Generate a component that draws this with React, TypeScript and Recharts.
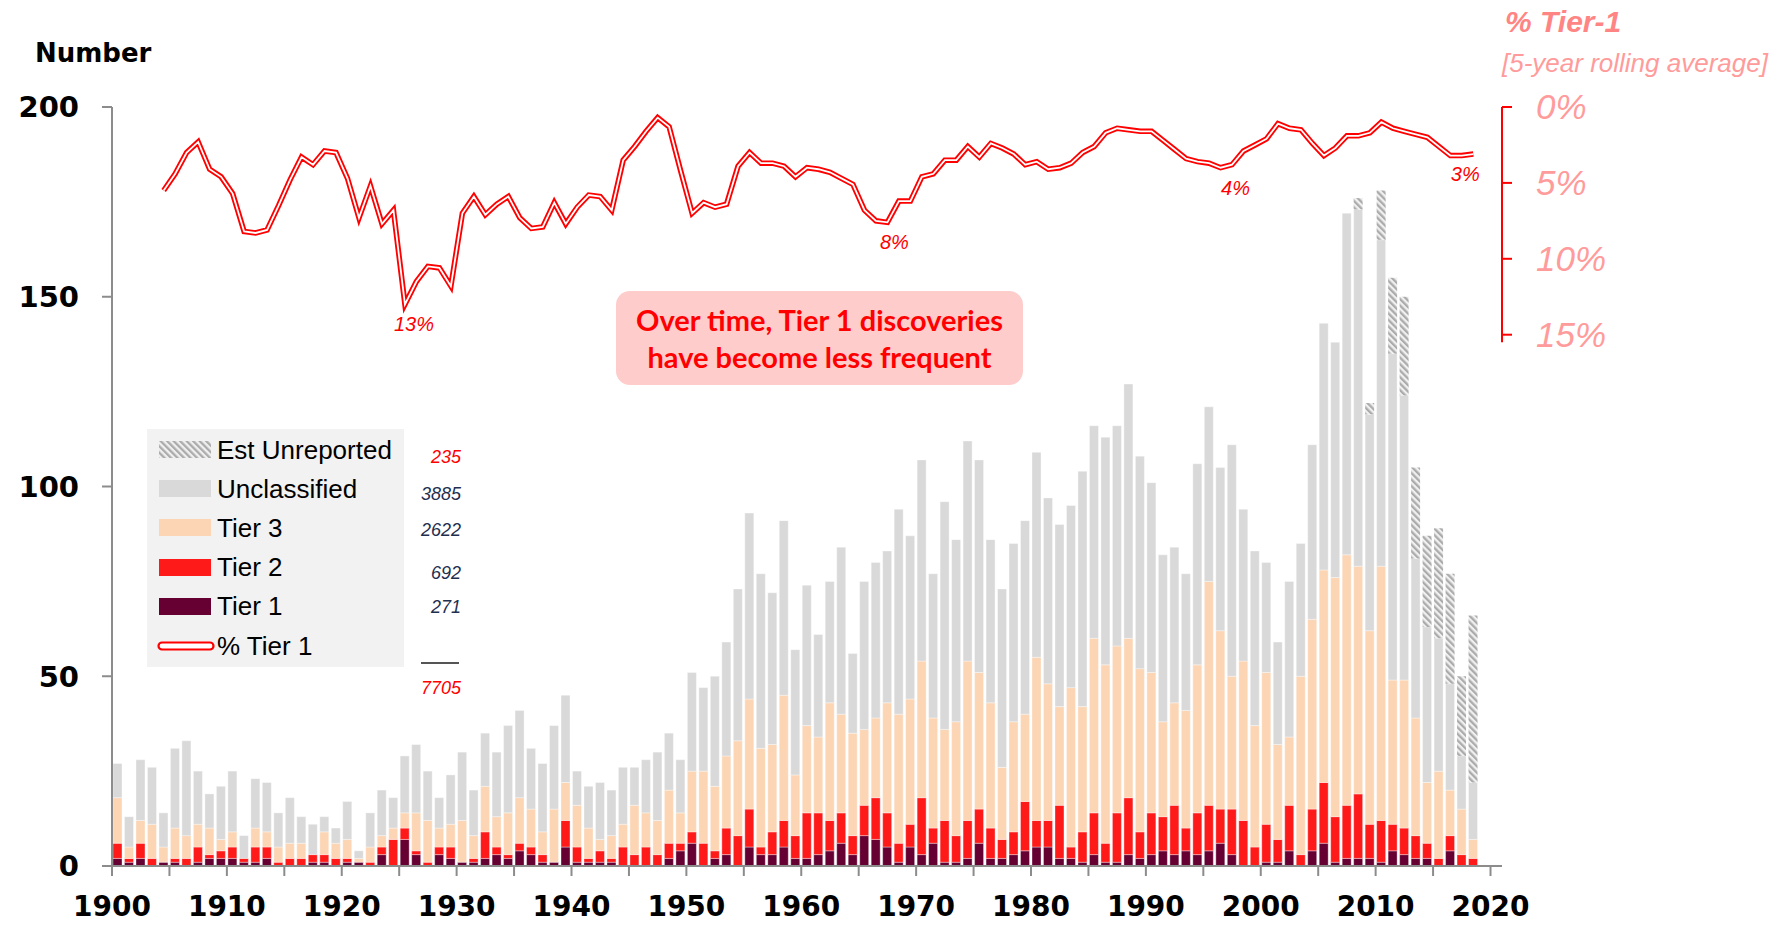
import React from 'react';
import { ComposedChart, Bar, Line, XAxis, YAxis, Legend, ReferenceLine } from 'recharts';

// discoveries per year, 1900 .. 2018
const FIRST_YEAR = 1900;

const tier1 = [
  2, 1, 2, 0, 1, 1, 0, 1, 2, 2,
  2, 1, 1, 2, 0, 0, 0, 1, 1, 0,
  1, 1, 0, 3, 0, 7, 3, 0, 3, 2,
  1, 1, 2, 3, 2, 4, 3, 1, 1, 5,
  1, 1, 1, 1, 0, 0, 0, 0, 2, 4,
  6, 0, 2, 3, 0, 5, 3, 3, 5, 2,
  2, 3, 4, 6, 3, 8, 7, 5, 1, 5,
  3, 6, 1, 1, 2, 6, 2, 2, 3, 4,
  5, 5, 2, 2, 1, 3, 1, 1, 3, 2,
  3, 4, 3, 4, 3, 4, 6, 3, 0, 0,
  1, 1, 4, 0, 4, 6, 1, 2, 2, 2,
  1, 4, 3, 2, 2, 0, 4, 0, 0,
];

const tier2 = [
  4, 1, 4, 2, 0, 1, 2, 4, 1, 2,
  3, 1, 4, 3, 1, 2, 2, 2, 2, 2,
  1, 0, 1, 2, 7, 3, 1, 1, 2, 3,
  0, 1, 7, 2, 1, 2, 2, 2, 0, 7,
  4, 1, 3, 1, 5, 3, 5, 3, 4, 2,
  3, 6, 2, 7, 8, 10, 2, 6, 7, 6,
  12, 11, 8, 8, 5, 8, 11, 9, 5, 6,
  15, 4, 11, 7, 10, 9, 8, 5, 6, 13,
  7, 7, 14, 3, 8, 11, 5, 13, 15, 7,
  11, 9, 13, 6, 11, 12, 9, 12, 12, 5,
  10, 6, 12, 3, 11, 16, 12, 14, 17, 9,
  11, 7, 7, 6, 4, 2, 4, 3, 2,
];

const tier3 = [
  12, 3, 6, 9, 4, 8, 6, 6, 7, 3,
  4, 0, 5, 4, 4, 4, 4, 0, 6, 4,
  5, 1, 4, 3, 3, 4, 10, 11, 5, 6,
  11, 6, 12, 8, 11, 12, 10, 6, 14, 10,
  11, 8, 3, 6, 6, 13, 9, 9, 14, 8,
  16, 19, 17, 19, 25, 29, 26, 23, 33, 16,
  23, 20, 31, 26, 27, 20, 21, 29, 34, 33,
  36, 29, 24, 30, 42, 36, 33, 19, 29, 23,
  43, 36, 26, 42, 33, 46, 47, 44, 42, 43,
  37, 25, 27, 31, 39, 59, 47, 35, 42, 32,
  40, 25, 18, 47, 50, 56, 63, 66, 60, 51,
  67, 38, 39, 31, 16, 23, 12, 12, 5,
];

const unclassified = [
  9, 8, 16, 15, 9, 21, 25, 14, 9, 14,
  16, 6, 13, 13, 9, 12, 7, 8, 4, 4,
  10, 2, 9, 12, 8, 15, 18, 13, 8, 13,
  18, 12, 14, 17, 23, 23, 16, 18, 22, 23,
  9, 11, 15, 12, 15, 10, 14, 18, 15, 14,
  26, 22, 29, 30, 40, 49, 46, 40, 46, 33,
  37, 27, 32, 44, 21, 39, 41, 40, 54, 43,
  53, 38, 60, 48, 58, 56, 43, 47, 47, 51,
  54, 49, 48, 48, 62, 56, 60, 58, 67, 56,
  50, 44, 41, 36, 53, 46, 43, 61, 40, 46,
  29, 27, 41, 35, 46, 65, 62, 90, 94, 57,
  86, 86, 75, 42, 41, 35, 28, 14, 15,
];

// estimated unreported, 2008 .. 2018
const EST_FROM = 2008;
const estUnreported = [3, 3, 13, 20, 26, 24, 24, 29, 29, 21, 44];

// % Tier 1, 5-year rolling average, 1904 .. 2018
const PCT_FROM = 1904;
const pctTier1 = [
  5.5, 4.4, 3.0, 2.3, 4.1, 4.6,
  5.7, 8.2, 8.3, 8.1, 6.5, 4.8, 3.3, 3.8, 2.9, 3.0,
  4.7, 7.3, 5.2, 7.7, 6.8, 13.0, 11.5, 10.5, 10.6, 11.8,
  7.0, 5.9, 7.1, 6.4, 5.9, 7.3, 8.0, 7.9, 6.3, 7.7,
  6.6, 5.8, 5.9, 6.8, 3.5, 2.6, 1.6, 0.7, 1.3, 4.2,
  7.0, 6.3, 6.6, 6.4, 3.9, 3.0, 3.7, 3.7, 3.9, 4.6,
  4.0, 4.1, 4.3, 4.7, 5.1, 6.8, 7.5, 7.6, 6.2, 6.2,
  4.6, 4.4, 3.5, 3.5, 2.6, 3.3, 2.4, 2.7, 3.1, 3.8,
  3.6, 4.1, 4.0, 3.7, 3.0, 2.6, 1.7, 1.4, 1.5, 1.6,
  1.6, 2.2, 2.8, 3.4, 3.6, 3.7, 4.0, 3.8, 2.9, 2.5,
  2.1, 1.1, 1.4, 1.5, 2.4, 3.2, 2.7, 1.9, 1.9, 1.7,
  1.0, 1.4, 1.6, 1.8, 2.0, 2.6, 3.2, 3.2, 3.1,
];

const xTicks = [
  1900, 1905, 1910, 1915, 1920, 1925, 1930, 1935, 1940, 1945, 1950, 1955, 1960,
  1965, 1970, 1975, 1980, 1985, 1990, 1995, 2000, 2005, 2010, 2015, 2020,
];
const leftTicks = [0, 50, 100, 150, 200];
const rightTicks = [0, 5, 10, 15];

const lineNotes: Record<number, string> = { 1925: '13%', 1967: '8%', 1996: '4%', 2018: '3%' };
const legendTotals = ['235', '3885', '2622', '692', '271'];
const grandTotal = '7705';

// nudge for the note text, px
const noteShift: Record<number, number> = { 1925: 9, 1967: 7, 1996: 15, 2018: -8 };

const C_T1 = '#660033';
const C_T2 = '#ff1a1a';
const C_T3 = '#fcd5b4';
const C_UN = '#d9d9d9';
const C_LINE = '#ff0000';
const AXIS = '#8c8c8c';

const rows = tier1.map((t1, i) => {
  const year = FIRST_YEAR + i;
  const e = year >= EST_FROM ? estUnreported[year - EST_FROM] : 0;
  return {
    x: year + 0.5,
    year,
    t1,
    t2: tier2[i],
    t3: tier3[i],
    un: unclassified[i],
    est: e,
    pct: year >= PCT_FROM ? pctTier1[year - PCT_FROM] : null,
  };
});

const legendItems = [
  { label: 'Est Unreported', kind: 'hatch' },
  { label: 'Unclassified', kind: 'box', color: C_UN },
  { label: 'Tier 3', kind: 'box', color: C_T3 },
  { label: 'Tier 2', kind: 'box', color: C_T2 },
  { label: 'Tier 1', kind: 'box', color: C_T1 },
  { label: '% Tier 1', kind: 'line' },
];

function LegendBox() {
  return (
    <div
      style={{
        position: 'relative',
        width: 257,
        height: 238,
        background: '#f2f2f2',
        fontFamily: '"Liberation Sans", Arial, sans-serif',
        color: '#000',
      }}
    >
      {legendItems.map((item, i) => {
        const cy = 20.5 + i * 39.2;
        return (
          <div key={item.label}>
            {item.kind === 'line' ? (
              <svg style={{ position: 'absolute', left: 10, top: cy - 6 }} width={58} height={12}>
                <rect x={1.5} y={2.5} width={55} height={7} rx={3.5} fill="#fff" stroke={C_LINE} strokeWidth={2.2} />
              </svg>
            ) : (
              <svg style={{ position: 'absolute', left: 12, top: cy - 8.5 }} width={52} height={17}>
                <rect width={52} height={17} fill={item.kind === 'hatch' ? 'url(#hatch)' : item.color} />
              </svg>
            )}
            <div
              style={{
                position: 'absolute',
                left: 70,
                top: cy - 17,
                height: 34,
                lineHeight: '34px',
                fontSize: 26,
                whiteSpace: 'nowrap',
              }}
            >
              {item.label}
            </div>
          </div>
        );
      })}
    </div>
  );
}

function NoteLabel(props: any) {
  const { x, y, index } = props;
  const row = rows[index];
  const note = row ? lineNotes[row.year] : undefined;
  if (!note || x == null || y == null) return <g />;
  return (
    <text
      x={x + (noteShift[row.year] || 0)}
      y={y + 27}
      textAnchor="middle"
      fill={C_LINE}
      fontSize={20}
      fontStyle="italic"
      fontFamily='"Liberation Sans Narrow", "Liberation Sans", Arial, sans-serif'
    >
      {note}
    </text>
  );
}

const tickFont = { fontFamily: '"DejaVu Sans", sans-serif', fontWeight: 'bold', fill: '#000' };

export default function App() {
  return (
    <div style={{ position: 'absolute', left: 0, top: 0, width: 1787, height: 928, background: '#fff' }}>
      <svg width={0} height={0} style={{ position: 'absolute' }}>
        <defs>
          <pattern id="hatch" width={4.6} height={4.6} patternUnits="userSpaceOnUse" patternTransform="rotate(-45)">
            <rect width={4.6} height={4.6} fill="#f0f0f0" />
            <rect width={2.3} height={4.6} fill="#ababab" />
          </pattern>
        </defs>
      </svg>

      <ComposedChart width={1787} height={928} data={rows} margin={{ top: 107, right: 0, bottom: 0, left: 0 }}>
        <XAxis
          dataKey="x"
          type="number"
          domain={[1900, 2021]}
          ticks={xTicks}
          tickFormatter={(v: number) => (v % 10 === 0 ? String(v) : '')}
          interval={0}
          height={62}
          axisLine={{ stroke: AXIS, strokeWidth: 2 }}
          tickLine={{ stroke: AXIS, strokeWidth: 2 }}
          tickSize={10}
          tickMargin={20}
          tick={{ ...tickFont, fontSize: 28 }}
          allowDataOverflow
        />
        <YAxis
          yAxisId="left"
          width={112}
          domain={[0, 200]}
          ticks={leftTicks}
          interval={0}
          axisLine={{ stroke: AXIS, strokeWidth: 2 }}
          tickLine={{ stroke: AXIS, strokeWidth: 2 }}
          tickSize={10}
          tickMargin={23}
          tick={{ ...tickFont, fontSize: 29 }}
        />
        <YAxis
          yAxisId="right"
          orientation="right"
          width={285}
          reversed
          domain={[0, 50]}
          ticks={rightTicks}
          interval={0}
          axisLine={false}
          tickLine={{ stroke: C_LINE, strokeWidth: 2 }}
          tickSize={10}
          tickMargin={24}
          tickFormatter={(v: number) => `${v}%`}
          tick={{ fontFamily: '"Liberation Sans", Arial, sans-serif', fontStyle: 'italic', fontSize: 35, fill: '#ff9b9b' }}
        />
        <ReferenceLine
          yAxisId="right"
          segment={[{ x: 2021, y: 0 }, { x: 2021, y: 15.5 }]}
          stroke={C_LINE}
          strokeWidth={2}
          ifOverflow="visible"
        />

        <Bar yAxisId="left" dataKey="t1" stackId="d" fill={C_T1} barSize={9} stroke="#ffffff" strokeOpacity={0.6} strokeWidth={0.6} isAnimationActive={false} />
        <Bar yAxisId="left" dataKey="t2" stackId="d" fill={C_T2} barSize={9} stroke="#ffffff" strokeOpacity={0.6} strokeWidth={0.6} isAnimationActive={false} />
        <Bar yAxisId="left" dataKey="t3" stackId="d" fill={C_T3} barSize={9} stroke="#ffffff" strokeOpacity={0.6} strokeWidth={0.6} isAnimationActive={false} />
        <Bar yAxisId="left" dataKey="un" stackId="d" fill={C_UN} barSize={9} stroke="#ffffff" strokeOpacity={0.6} strokeWidth={0.6} isAnimationActive={false} />
        <Bar yAxisId="left" dataKey="est" stackId="d" fill="url(#hatch)" barSize={9} isAnimationActive={false} />

        <Line yAxisId="right" dataKey="pct" type="linear" stroke={C_LINE} strokeWidth={5.5} dot={false} activeDot={false} isAnimationActive={false} />
        <Line
          yAxisId="right"
          dataKey="pct"
          type="linear"
          stroke="#ffffff"
          strokeWidth={1.8}
          dot={false}
          activeDot={false}
          isAnimationActive={false}
          label={NoteLabel}
        />

        <Legend
          layout="horizontal"
          verticalAlign="middle"
          align="center"
          content={() => <LegendBox />}
          wrapperStyle={{ position: 'absolute', left: 147, top: 429, width: 257, height: 238 }}
        />
      </ComposedChart>

      {/* totals beside the legend */}
      <div style={{ position: 'absolute', left: 360, top: 0, width: 101, fontFamily: '"Liberation Sans", Arial, sans-serif', fontStyle: 'italic', fontSize: 18, textAlign: 'right' }}>
        {legendTotals.map((t, i) => (
          <div
            key={t}
            style={{
              position: 'absolute',
              right: 0,
              top: [457, 494, 530, 573, 607][i] - 11,
              lineHeight: '22px',
              color: i === 0 ? C_LINE : '#1f2f4f',
            }}
          >
            {t}
          </div>
        ))}
        <div style={{ position: 'absolute', right: 2, top: 662, width: 38, height: 2, background: '#555' }} />
        <div style={{ position: 'absolute', right: 0, top: 677, lineHeight: '22px', color: C_LINE }}>{grandTotal}</div>
      </div>

      <div style={{ position: 'absolute', left: 35, top: 38, lineHeight: '30px', fontFamily: '"DejaVu Sans", sans-serif', fontWeight: 'bold', fontSize: 26, color: '#000' }}>
        Number
      </div>

      <div style={{ position: 'absolute', left: 1505, top: 4, lineHeight: '36px', fontFamily: '"Liberation Sans", Arial, sans-serif', fontWeight: 'bold', fontStyle: 'italic', fontSize: 30, color: '#ff8585' }}>
        % Tier-1
      </div>
      <div style={{ position: 'absolute', left: 1502, top: 48, lineHeight: '30px', fontFamily: '"Liberation Sans", Arial, sans-serif', fontStyle: 'italic', fontSize: 26, color: '#ff9b9b', whiteSpace: 'nowrap' }}>
        [5-year rolling average]
      </div>

      <div
        style={{
          position: 'absolute',
          left: 616,
          top: 291,
          width: 407,
          height: 94,
          boxSizing: 'border-box',
          paddingTop: 11,
          background: '#ffcccc',
          borderRadius: 14,
          textAlign: 'center',
          fontFamily: 'Lato, "Open Sans", sans-serif',
          fontWeight: 'bold',
          fontSize: 29,
          lineHeight: '36.5px',
          color: '#ff0000',
          whiteSpace: 'nowrap',
        }}
      >
        Over time, Tier 1 discoveries
        <br />
        have become less frequent
      </div>
    </div>
  );
}
